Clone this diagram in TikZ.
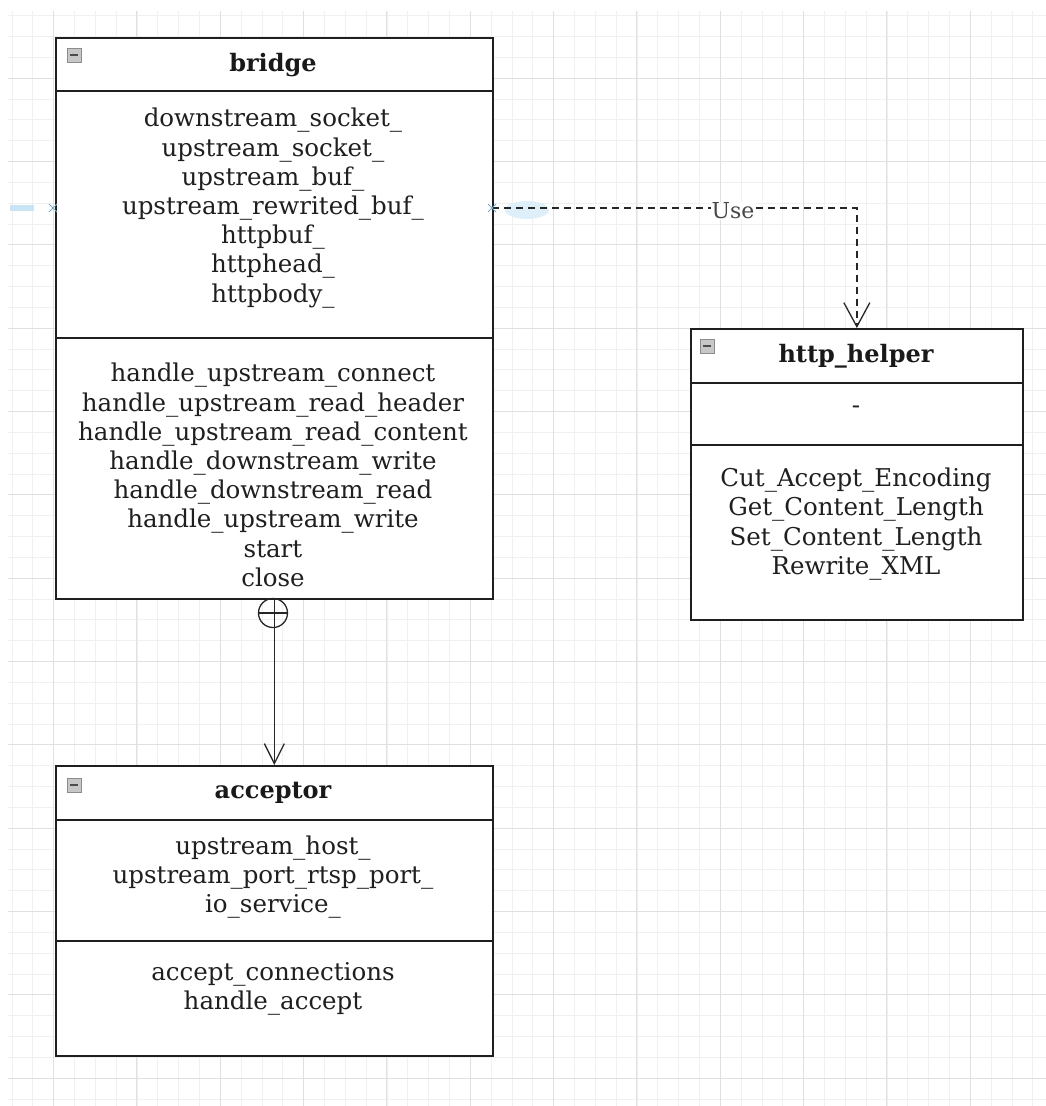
\documentclass[tikz,border=0pt]{standalone}
\usepackage{fontspec}
\setmainfont{DejaVu Serif}
\usetikzlibrary{arrows.meta}
\definecolor{selblue}{RGB}{200,228,245}
\definecolor{selmark}{RGB}{120,170,200}
\begin{document}
\begin{tikzpicture}[x=1pt,y=-1pt,
  minorgrid/.style={draw=black!6, line width=0.6pt},
  majorgrid/.style={draw=black!12, line width=0.9pt},
  compart/.style={draw=black!88, line width=1.7pt, fill=white, inner sep=0pt, anchor=north west},
  bodytext/.style={align=center, inner sep=0pt, font=\fontsize{24.5}{29.2}\selectfont, text=black!88},
  headtext/.style={inner sep=0pt, font=\fontsize{24}{28}\selectfont\bfseries, text=black!90},
  collapse/.style={draw=black!45, fill=black!22, line width=0.8pt, minimum size=14pt, inner sep=0pt},
  conn/.style={draw=black!85, line width=1.3pt},
  openv/.style={-{Straight Barb[length=24pt,width=26pt,line width=1.3pt]}},
  openvsmall/.style={-{Straight Barb[length=20pt,width=20pt,line width=1.3pt]}}
]
\useasboundingbox (0,0) rectangle (1046,1106);
\fill[white] (0,0) rectangle (1046,1106);
% grid
\begin{scope}
\clip (8,11) rectangle (1046,1106);
\foreach \k in {-2,...,47} \draw[minorgrid] ({53.5+\k*20.833},11) -- ++(0,1095);
\foreach \k in {-4,...,49} \draw[minorgrid] (8,{78+\k*20.833}) -- ++(1038,0);
\foreach \k in {-1,...,12} \draw[majorgrid] ({53.5+\k*83.333},11) -- ++(0,1095);
\foreach \k in {-1,...,13} \draw[majorgrid] (8,{78+\k*83.333}) -- ++(1038,0);
\end{scope}

% selection artifacts (light blue)
\draw[draw=selblue, line width=6pt] (10,208) -- (34,208);
\fill[selblue!60] (527,210) ellipse (22 and 9);

% ===== bridge =====
\node[compart, minimum width=437pt, minimum height=53pt] (bridgeH) at (55,37) {};
\node[compart, minimum width=437pt, minimum height=247pt] (bridgeA) at (55,90) {};
\node[compart, minimum width=437pt, minimum height=261pt] (bridgeM) at (55,337) {};
\node[headtext] (bridgeT) at (273,65) {bridge};
\node[collapse] (bridgeC) at (74,55) {};
\draw[black!70, line width=1.4pt] ([xshift=-4pt]bridgeC.center) -- ([xshift=4pt]bridgeC.center);
\node[bodytext] (bridgeAT) at (273,208) {downstream\_socket\_\\upstream\_socket\_\\upstream\_buf\_\\upstream\_rewrited\_buf\_\\httpbuf\_\\httphead\_\\httpbody\_};
\node[bodytext] (bridgeMT) at (273,475) {handle\_upstream\_connect\\handle\_upstream\_read\_header\\handle\_upstream\_read\_content\\handle\_downstream\_write\\handle\_downstream\_read\\handle\_upstream\_write\\start\\close};

% ===== http_helper =====
\node[compart, minimum width=332pt, minimum height=54pt] (httpH) at (690,328) {};
\node[compart, minimum width=332pt, minimum height=62pt] (httpA) at (690,382) {};
\node[compart, minimum width=332pt, minimum height=175pt] (httpM) at (690,444) {};
\node[headtext] (httpT) at (856,356) {http\_helper};
\node[collapse] (httpC) at (707,346) {};
\draw[black!70, line width=1.4pt] ([xshift=-4pt]httpC.center) -- ([xshift=4pt]httpC.center);
\node[bodytext] (httpAT) at (856,410) {-};
\node[bodytext] (httpMT) at (856,524) {Cut\_Accept\_Encoding\\Get\_Content\_Length\\Set\_Content\_Length\\Rewrite\_XML};

% ===== acceptor =====
\node[compart, minimum width=437pt, minimum height=54pt] (accH) at (55,765) {};
\node[compart, minimum width=437pt, minimum height=121pt] (accA) at (55,819) {};
\node[compart, minimum width=437pt, minimum height=115pt] (accM) at (55,940) {};
\node[headtext] (accT) at (273,793) {acceptor};
\node[collapse] (accC) at (74,785) {};
\draw[black!70, line width=1.4pt] ([xshift=-4pt]accC.center) -- ([xshift=4pt]accC.center);
\node[bodytext] (accAT) at (273,877) {upstream\_host\_\\upstream\_port\_rtsp\_port\_\\io\_service\_};
\node[bodytext] (accMT) at (273,989) {accept\_connections\\handle\_accept};

% ===== Use dependency =====
\coordinate (useStart) at (492,208);
\draw[conn, dash pattern=on 7pt off 5pt, openv] (useStart) -| (httpH.north);
\node[fill=white, inner sep=1pt, font=\fontsize{22}{24}\selectfont, text=black!72] (useLbl) at (733,211) {Use};
\foreach \p in {(53,208),(492,208)}
  \draw[selmark, line width=0.9pt] \p ++(-4,-4) -- ++(8,8) \p ++(-4,4) -- ++(8,-8);

% ===== composition bridge -> acceptor =====
\draw[conn, openvsmall] (bridgeM.south) -- (accH.north);
\node[draw=black!85, line width=1.3pt, circle, minimum size=29pt, inner sep=0pt] (comp) at (273,613) {};
\draw[conn] (comp.west) -- (comp.east);
\end{tikzpicture}
\end{document}
